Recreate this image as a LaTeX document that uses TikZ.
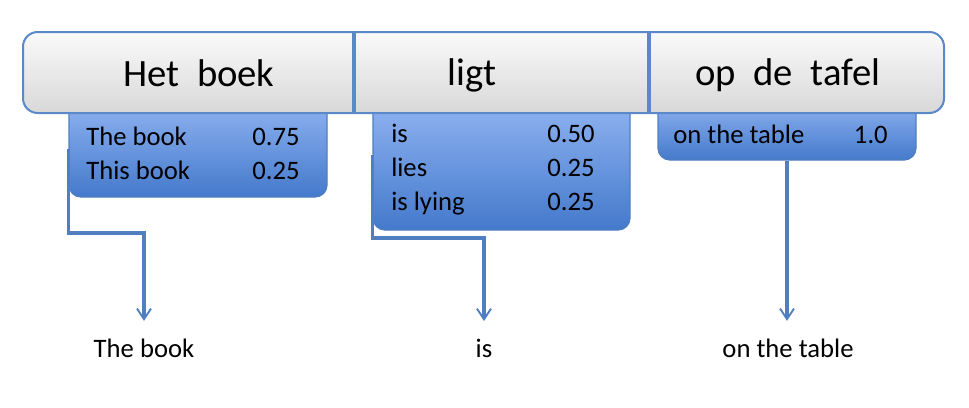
\documentclass[tikz,border=0pt]{standalone}
\usepackage{fontspec}
\setmainfont{Carlito}
\usetikzlibrary{positioning,arrows.meta,fit,calc}
\definecolor{barLine}{HTML}{5A88C8}
\definecolor{barTop}{HTML}{FAFAFA}
\definecolor{barBot}{HTML}{D8D8D8}
\definecolor{optTop}{HTML}{90B4F2}
\definecolor{optBot}{HTML}{4479CB}
\definecolor{linkBlue}{HTML}{4F7FC0}

\begin{document}
\begin{tikzpicture}[x=0.75pt, y=-0.75pt,
    srcbar/.style={draw=barLine, line width=1.5pt, rounded corners=11pt,
                   top color=barTop, bottom color=barBot, inner sep=0pt},
    divider/.style={draw=barLine, line width=2.4pt},
    optbox/.style={draw=linkBlue, line width=1pt, rounded corners=9pt,
                   top color=optTop, bottom color=optBot, inner sep=0pt},
    srcword/.style={font=\fontsize{29}{34}\selectfont, anchor=base, inner sep=0pt},
    phrase/.style={font=\fontsize{20}{24}\selectfont, anchor=base west, inner sep=0pt},
    prob/.style={font=\fontsize{20}{24}\selectfont, anchor=base east, inner sep=0pt},
    target/.style={font=\fontsize{20}{24}\selectfont, anchor=base, inner sep=2pt},
    link/.style={draw=linkBlue, line width=2.4pt, shorten >=11pt,
                 -{Straight Barb[length=8pt, width=10.5pt, line width=1.4pt]}},
  ]
    \useasboundingbox (0,0) rectangle (969,407);

    % --- option boxes (tops tucked under the bar) ---------------------------
    \node[optbox, fit={(69,100) (327,197)}] (opt1) {};
    \node[optbox, fit={(373,100) (630,230)}] (opt2) {};
    \node[optbox, fit={(658,100) (916,160)}] (opt3) {};

    % --- source sentence bar -------------------------------------------------
    \node[srcbar, fit={(23,32) (944,113)}] (bar) {};
    \draw[divider] (354,0 |- bar.north) -- (354,0 |- bar.south);
    \draw[divider] (649,0 |- bar.north) -- (649,0 |- bar.south);
    \node[srcword] (src1) at (199,86) {Het\ \ boek};
    \node[srcword] (src2) at (472,85) {ligt};
    \node[srcword] (src3) at (788,85) {op\ \ de\ \ tafel};

    % --- phrase table entries ------------------------------------------------
    \node[phrase] (p1a) at (86,145)  {The book};   \node[prob] (q1a) at (300,145) {0.75};
    \node[phrase] (p1b) at (86,179)  {This book};  \node[prob] (q1b) at (300,179) {0.25};
    \node[phrase] (p2a) at (391,142) {is};         \node[prob] (q2a) at (595,142) {0.50};
    \node[phrase] (p2b) at (391,176) {lies};       \node[prob] (q2b) at (595,176) {0.25};
    \node[phrase] (p2c) at (391,210) {is lying};   \node[prob] (q2c) at (595,210) {0.25};
    \node[phrase] (p3a) at (673,143) {on the table}; \node[prob] (q3a) at (888,143) {1.0};

    % --- chosen translation --------------------------------------------------
    \node[target] (tgt1) at (144,357) {The book};
    \node[target] (tgt2) at (484,357) {is};
    \node[target] (tgt3) at (788,357) {on the table};

    % --- links ---------------------------------------------------------------
    \draw[link] (opt1.west) -- (opt1.west |- 0,233) -| (tgt1.north);
    \draw[link] ([yshift=7.5pt]opt2.west) -- (opt2.west |- 0,238) -| (tgt2.north);
    \draw[link] (opt3.south) -- (opt3.south |- tgt3.north);
\end{tikzpicture}
\end{document}
